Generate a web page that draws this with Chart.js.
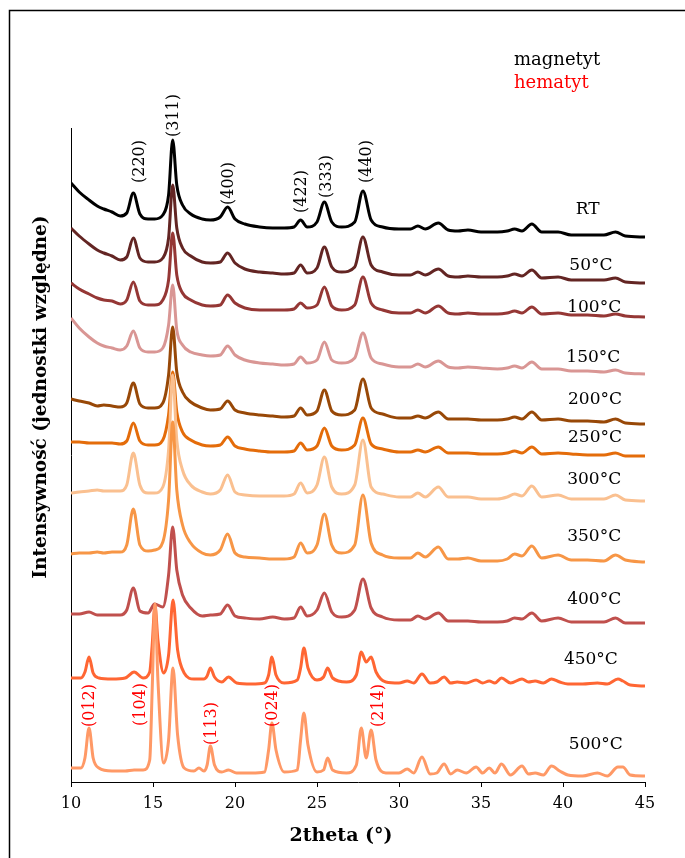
<!DOCTYPE html>
<html>
<head>
<meta charset="utf-8">
<script src="https://cdn.jsdelivr.net/npm/chart.js@4.4.1/dist/chart.umd.min.js"></script>
<style>
  html, body { margin: 0; padding: 0; background: #fff; }
</style>
</head>
<body>
<canvas id="xrd" width="685" height="858"></canvas>
<script>
// ---------- data (2theta grid + stacked intensities, arbitrary units) ----------
const thetaM = [10.0, 10.5, 11.1, 11.6, 12.0, 12.5, 13.0, 13.4, 13.8, 14.2,
  14.7, 15.1, 15.6, 15.95, 16.2, 16.45, 16.8, 17.3, 18.0, 18.5,
  19.1, 19.55, 20.0, 20.6, 21.5, 22.3, 23.0, 23.6, 24.0, 24.4,
  25.0, 25.45, 25.9, 26.5, 27.3, 27.8, 28.3, 29.0, 30.0, 30.7,
  31.15, 31.6, 32.4, 33.0, 33.6, 34.2, 35.0, 36.0, 36.6, 37.05,
  37.5, 38.1, 38.7, 39.7, 40.5, 41.5, 42.5, 43.2, 43.8, 45.0];

const thetaH = [10.0, 10.6, 10.85, 11.1, 11.35, 11.7, 12.5, 13.3, 13.85, 14.4,
  14.8, 14.95, 15.12, 15.3, 15.65, 15.95, 16.22, 16.5, 16.9, 17.5,
  17.8, 18.1, 18.3, 18.5, 18.75, 19.2, 19.6, 20.1, 21.0, 21.8,
  22.05, 22.25, 22.5, 23.0, 23.8, 24.0, 24.2, 24.45, 25.0, 25.4,
  25.65, 25.95, 26.8, 27.4, 27.7, 28.0, 28.3, 28.6, 29.2, 30.0,
  30.5, 30.9, 31.4, 31.9, 32.3, 32.75, 33.15, 33.55, 34.1, 34.7,
  35.1, 35.5, 35.85, 36.25, 36.8, 37.5, 37.9, 38.3, 38.8, 39.3,
  39.8, 40.3, 41.2, 42.1, 42.7, 43.35, 43.65, 44.1, 45.0];

const iRT = [599, 590, 582, 576, 573, 570, 566, 569, 589, 568,
  563, 563, 567, 587, 642, 597, 577, 568, 563, 562,
  565, 575, 563, 558, 555, 554, 554, 555, 562, 555,
  560, 580, 560, 555, 560, 591, 562, 555, 553, 553,
  556, 553, 559, 552, 551, 552, 550, 550, 551, 553,
  551, 558, 550, 550, 547, 547, 547, 550, 546, 545];

const i50 = [554, 546, 538, 532, 529, 526, 522, 525, 544, 524,
  520, 520, 524, 544, 597, 554, 534, 526, 520, 519,
  520, 529, 519, 513, 510, 509, 508, 509, 517, 509,
  514, 535, 515, 510, 515, 545, 517, 510, 507, 507,
  510, 507, 513, 506, 505, 506, 505, 505, 506, 508,
  506, 512, 504, 505, 502, 502, 502, 504, 500, 499];

const i100 = [499, 493, 488, 484, 482, 481, 478, 482, 500, 481,
  477, 477, 482, 502, 549, 507, 489, 482, 477, 476,
  477, 487, 479, 474, 472, 472, 472, 473, 479, 474,
  477, 495, 476, 472, 477, 505, 479, 472, 469, 469,
  472, 469, 476, 469, 468, 469, 468, 468, 469, 471,
  469, 475, 468, 469, 467, 467, 466, 468, 466, 465];

const i150 = [464, 454, 445, 439, 436, 434, 432, 436, 451, 434,
  430, 430, 434, 457, 497, 452, 437, 430, 427, 426,
  427, 436, 427, 422, 419, 418, 417, 418, 425, 419,
  422, 440, 422, 419, 424, 449, 424, 418, 415, 415,
  418, 415, 421, 415, 414, 415, 414, 413, 414, 416,
  414, 420, 413, 413, 411, 411, 410, 412, 409, 408];

const i200 = [383, 381, 379, 376, 377, 376, 375, 379, 399, 378,
  374, 374, 379, 407, 455, 410, 390, 380, 374, 372,
  373, 381, 372, 369, 367, 366, 365, 366, 374, 367,
  371, 392, 371, 367, 372, 403, 374, 368, 364, 364,
  366, 364, 370, 363, 363, 363, 362, 362, 363, 365,
  363, 370, 362, 363, 361, 361, 360, 363, 359, 358];

const i250 = [340, 340, 339, 339, 339, 339, 338, 341, 359, 341,
  337, 337, 342, 367, 410, 370, 350, 342, 337, 336,
  337, 345, 336, 333, 331, 330, 330, 331, 339, 332,
  336, 354, 336, 332, 337, 364, 338, 333, 330, 330,
  332, 330, 335, 329, 329, 329, 328, 328, 329, 331,
  329, 335, 328, 329, 328, 327, 327, 329, 326, 326];

const i300 = [289, 290, 291, 292, 291, 291, 291, 297, 329, 297,
  289, 289, 295, 332, 407, 342, 312, 297, 290, 288,
  292, 307, 290, 287, 286, 286, 286, 288, 299, 289,
  297, 325, 295, 288, 297, 342, 295, 288, 285, 285,
  289, 285, 295, 285, 285, 285, 283, 283, 285, 288,
  286, 296, 285, 287, 283, 283, 283, 287, 282, 281];

const i350 = [228, 229, 229, 230, 229, 230, 230, 237, 273, 237,
  231, 232, 240, 282, 360, 292, 257, 239, 229, 227,
  232, 248, 229, 225, 224, 223, 223, 225, 239, 229,
  237, 268, 237, 229, 237, 287, 239, 227, 224, 224,
  229, 225, 235, 223, 223, 224, 221, 221, 223, 228,
  226, 236, 224, 227, 222, 222, 221, 227, 222, 220];

const i400 = [168, 168, 170, 167, 167, 167, 167, 172, 194, 171,
  169, 178, 175, 207, 255, 212, 187, 174, 166, 167,
  168, 177, 166, 164, 163, 165, 163, 164, 175, 166,
  172, 189, 170, 165, 172, 203, 174, 165, 162, 162,
  166, 163, 169, 161, 161, 161, 160, 160, 161, 164,
  163, 169, 161, 164, 160, 160, 160, 164, 159, 159];

const i450 = [104, 104, 110, 125, 109, 104, 103, 104, 110, 104,
  110, 137, 177, 142, 109, 127, 182, 132, 109, 103,
  103, 103, 106, 114, 105, 100, 105, 99, 98, 99,
  107, 125, 107, 99, 102, 114, 134, 114, 102, 105,
  114, 104, 100, 107, 130, 120, 125, 110, 100, 99,
  101, 99, 108, 99, 100, 105, 99, 100, 99, 102,
  99, 101, 99, 104, 99, 103, 100, 101, 99, 103,
  100, 98, 98, 99, 98, 103, 101, 97, 96];

const i500 = [14, 14, 24, 54, 24, 14, 11, 11, 12, 12,
  22, 92, 178, 102, 19, 42, 114, 47, 14, 11,
  14, 11, 17, 36, 17, 10, 12, 9, 9, 10,
  32, 59, 32, 10, 12, 42, 69, 37, 10, 12,
  24, 12, 9, 17, 54, 24, 52, 22, 9, 9,
  13, 9, 25, 8, 9, 18, 8, 12, 9, 15,
  9, 14, 9, 18, 7, 16, 8, 9, 7, 16,
  11, 7, 6, 9, 6, 15, 15, 7, 6];

const sampleNames = ['RT', '50°C', '100°C', '150°C', '200°C', '250°C', '300°C', '350°C', '400°C', '450°C', '500°C'];
const sampleSeries = [iRT, i50, i100, i150, i200, i250, i300, i350, i400, i450, i500];
const sampleGrid = [thetaM, thetaM, thetaM, thetaM, thetaM, thetaM, thetaM, thetaM, thetaM, thetaH, thetaH];
const sampleColors = ['#000000', '#632523', '#953735', '#D99694', '#984807', '#E46C0A', '#FAC090', '#F79646', '#C0504D', '#FF6633', '#FF9966'];
// where each sample name sits (2theta, intensity)
const nameAtTheta = [41.5, 41.7, 41.9, 41.85, 41.95, 41.95, 41.9, 41.9, 41.9, 41.7, 42.0];
const nameAtI = [572, 516, 474, 424, 382, 344, 302, 245, 182, 122, 37];

// peak indices
const magPeaks = ['(220)', '(311)', '(400)', '(422)', '(333)', '(440)'];
const magPeakTheta = [14.21, 16.28, 19.63, 24.09, 25.61, 28.05];
const magPeakI = [599, 645, 577, 569, 584, 599];
const hemPeaks = ['(012)', '(104)', '(113)', '(024)', '(214)'];
const hemPeakTheta = [11.16, 14.27, 18.6, 22.32, 28.78];
const hemPeakI = [55, 56, 37, 55, 55];

const SERIF = '"DejaVu Serif", "Liberation Serif", serif';

// ---------- datasets ----------
const datasets = sampleSeries.map((vals, i) => ({
  label: sampleNames[i],
  data: vals.map((v, k) => ({ x: sampleGrid[i][k], y: v })),
  borderColor: sampleColors[i],
  borderWidth: 3,
  pointRadius: 0,
  fill: false,
  cubicInterpolationMode: 'monotone',
  order: sampleSeries.length - i   // later samples on top
}));

// ---------- text drawing plugin ----------
const textPlugin = {
  id: 'xrdText',
  beforeDraw(chart) {
    const ctx = chart.ctx;
    ctx.save();
    ctx.fillStyle = '#fff';
    ctx.fillRect(0, 0, chart.width, chart.height);
    ctx.strokeStyle = '#000';
    ctx.lineWidth = 1.5;
    ctx.strokeRect(9.5, 10.5, chart.width + 20, chart.height + 20);
    ctx.restore();
  },
  afterDraw(chart) {
    const ctx = chart.ctx;
    const xs = chart.scales.x, ys = chart.scales.y;
    ctx.save();

    // sample names
    ctx.fillStyle = '#000';
    ctx.font = '17px ' + SERIF;
    ctx.textAlign = 'center';
    ctx.textBaseline = 'middle';
    sampleNames.forEach((n, i) => {
      ctx.fillText(n, xs.getPixelForValue(nameAtTheta[i]), ys.getPixelForValue(nameAtI[i]));
    });

    // rotated peak labels
    const drawRot = (txt, x, y, color) => {
      ctx.save();
      ctx.translate(x, y);
      ctx.rotate(-Math.PI / 2);
      ctx.fillStyle = color;
      ctx.textAlign = 'left';
      ctx.textBaseline = 'middle';
      ctx.fillText(txt, 0, 0);
      ctx.restore();
    };
    ctx.font = '16px ' + SERIF;
    magPeaks.forEach((t, i) => drawRot(t, xs.getPixelForValue(magPeakTheta[i]), ys.getPixelForValue(magPeakI[i]), '#000'));
    hemPeaks.forEach((t, i) => drawRot(t, xs.getPixelForValue(hemPeakTheta[i]), ys.getPixelForValue(hemPeakI[i]), '#FF0000'));

    // legend text
    ctx.font = '18px ' + SERIF;
    ctx.textAlign = 'left';
    ctx.fillStyle = '#000';
    ctx.fillText('magnetyt', 514, 60);
    ctx.fillStyle = '#FF0000';
    ctx.fillText('hematyt', 514, 83);

    // axis titles
    ctx.fillStyle = '#000';
    ctx.font = 'bold 19px ' + SERIF;
    ctx.textAlign = 'center';
    ctx.fillText('2theta (°)', 341, 836);
    ctx.save();
    ctx.translate(41, 397);
    ctx.rotate(-Math.PI / 2);
    ctx.font = 'bold 18.5px ' + SERIF;
    ctx.fillText('Intensywność (jednostki względne)', 0, 0);
    ctx.restore();

    ctx.restore();
  }
};

new Chart(document.getElementById('xrd'), {
  type: 'line',
  data: { datasets },
  options: {
    responsive: false,
    animation: false,
    layout: { padding: { top: 128, right: 40, left: 0, bottom: 0 } },
    plugins: { legend: { display: false }, tooltip: { enabled: false } },
    scales: {
      x: {
        type: 'linear',
        min: 10, max: 45,
        afterFit: s => { s.height = 76; },
        ticks: { stepSize: 5, color: '#000', font: { family: SERIF, size: 16 }, padding: 7, maxRotation: 0 },
        grid: { drawOnChartArea: false, tickLength: 5, color: '#000' },
        border: { color: '#000', width: 1 }
      },
      y: {
        min: 0, max: 654,
        afterFit: s => { s.width = 71; },
        ticks: { display: false },
        grid: { display: false },
        border: { color: '#000', width: 1 }
      }
    }
  },
  plugins: [textPlugin]
});
</script>
</body>
</html>
